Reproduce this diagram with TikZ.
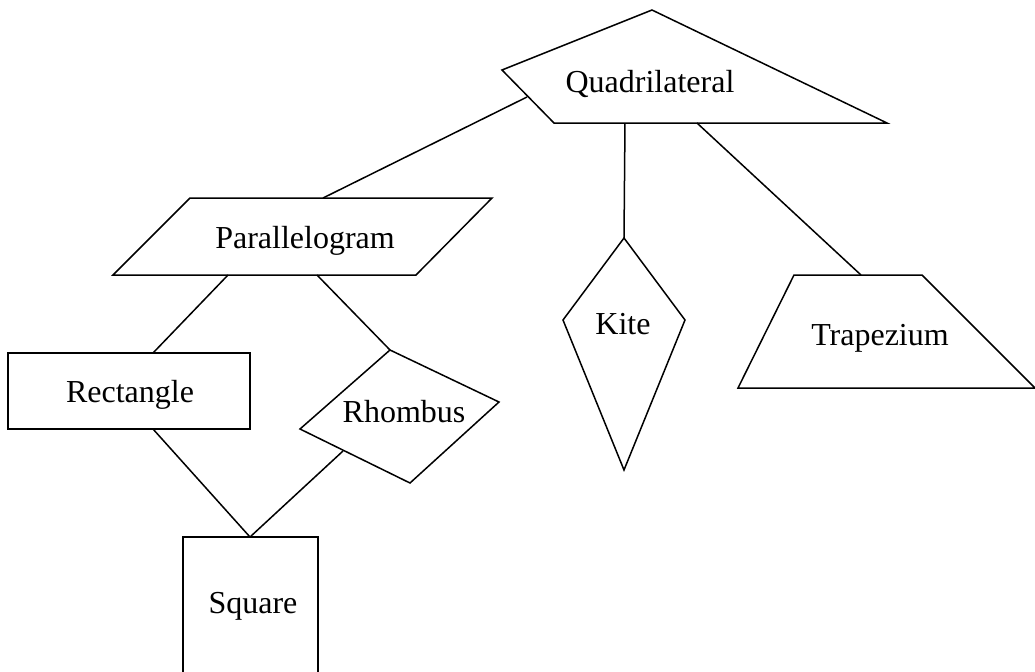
\documentclass[tikz,border=0pt]{standalone}
\usepackage{fontspec}
\setmainfont{Liberation Serif}
\begin{document}
\begin{tikzpicture}[x=0.5pt,y=-0.5pt,
  shp/.style={draw, line width=0.75pt, line join=miter},
  conn/.style={draw, line width=0.75pt},
  lbl/.style={font=\fontsize{16}{19}\selectfont, inner sep=0pt, anchor=base}]
\useasboundingbox (0,0) rectangle (1035,671);
\clip (0,0) rectangle (1035,671);

% Quadrilateral
\draw[shp] (652,10) -- (887,123) -- (554,123) -- (502,70) -- cycle;
\node[lbl] (quad) at (650,92) {Quadrilateral};
\coordinate (quadL) at (527,97);
\coordinate (quadB) at (625,123);
\coordinate (quadR) at (697,123);

% Parallelogram
\draw[shp] (190,198) -- (492,198) -- (416,275) -- (113,275) -- cycle;
\node[lbl] (para) at (305,248) {Parallelogram};
\coordinate (paraT) at (323,198);
\coordinate (paraBL) at (228,275);
\coordinate (paraBR) at (317,275);

% Rectangle
\draw[shp] (8,353) rectangle (250,429);
\node[lbl] (rect) at (130,402) {Rectangle};
\coordinate (rectT) at (153,353);
\coordinate (rectB) at (153,429);

% Rhombus
\draw[shp] (390,350) -- (499,402) -- (410,483) -- (300,429) -- cycle;
\node[lbl] (rhom) at (404,422) {Rhombus};
\coordinate (rhomT) at (390,350);
\coordinate (rhomB) at (343,451);

% Kite
\draw[shp] (624,238) -- (685,320) -- (624,470) -- (563,320) -- cycle;
\node[lbl] (kite) at (623,334) {Kite};
\coordinate (kiteT) at (624,238);

% Trapezium
\draw[shp] (794,275) -- (922,275) -- (1035,388) -- (738,388) -- cycle;
\node[lbl] (trap) at (880,345) {Trapezium};
\coordinate (trapT) at (861,275);

% Square
\draw[shp] (183,700) -- (183,537) -- (318,537) -- (318,700);
\node[lbl] (sq) at (253,613) {Square};
\coordinate (sqT) at (250,537);

% Connectors
\draw[conn] (quadL) -- (paraT);
\draw[conn] (quadB) -- (kiteT);
\draw[conn] (quadR) -- (trapT);
\draw[conn] (paraBL) -- (rectT);
\draw[conn] (paraBR) -- (rhomT);
\draw[conn] (rectB) -- (sqT);
\draw[conn] (rhomB) -- (sqT);
\end{tikzpicture}
\end{document}
